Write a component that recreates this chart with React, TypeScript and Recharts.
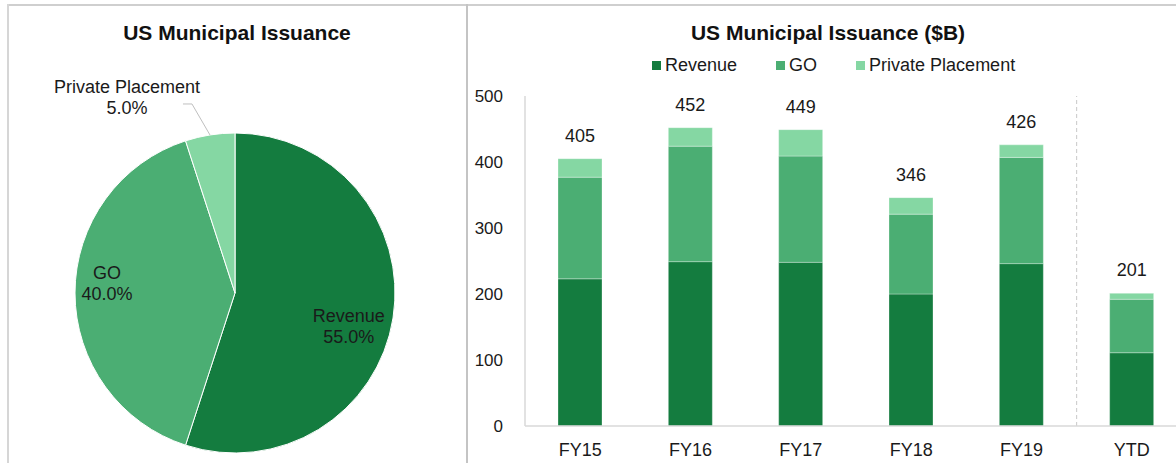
import { PieChart, Pie, Cell, BarChart, Bar, XAxis, YAxis, Legend, LabelList, ReferenceLine } from 'recharts'

const FONT = 'Arial, "Liberation Sans", sans-serif'

const shareNames = ['Revenue', 'GO', 'Private Placement']
const shareValues = [55, 40, 5]
const shareColors = ['#147C3F', '#4BAE73', '#85D7A3']

const years = ['FY15', 'FY16', 'FY17', 'FY18', 'FY19', 'YTD']
const revenue = [223, 249, 248, 200, 246, 111]
const go = [154, 175, 161, 121, 161, 81]
const privatePlacement = [28, 28, 40, 25, 19, 9]
const totals = [405, 452, 449, 346, 426, 201]
const yTicks = [0, 100, 200, 300, 400, 500]

const pieData = shareNames.map((name, i) => ({ name, value: shareValues[i] }))
const barData = years.map((year, i) => ({
  year,
  revenue: revenue[i],
  go: go[i],
  pp: privatePlacement[i],
  total: totals[i],
}))

const RAD = Math.PI / 180

// inside label placement (radius ratio, vertical nudge)
const insideLabel: Record<string, { ratio: number; dy: number }> = {
  Revenue: { ratio: 0.72, dy: 5 },
  GO: { ratio: 0.8, dy: -20 },
}

function PieLabel(props: any) {
  const { cx, cy, midAngle, outerRadius, name, percent } = props
  const pct = `${(percent * 100).toFixed(1)}%`
  const cos = Math.cos(-midAngle * RAD)
  const sin = Math.sin(-midAngle * RAD)
  if (name === 'Private Placement') {
    const sx = cx + outerRadius * cos
    const sy = cy + outerRadius * sin
    const mx = sx - 18
    const my = sy - 31
    const ex = mx - 9
    return (
      <g>
        <polyline points={`${sx},${sy} ${mx},${my} ${ex},${my}`} fill="none" stroke="#BFBFBF" strokeWidth={1} />
        <text x={ex - 56} y={my - 17} textAnchor="middle" dominantBaseline="central" fill="#1a1a1a" fontSize={18} fontFamily={FONT}>
          <tspan x={ex - 56} dy={0}>{name}</tspan>
          <tspan x={ex - 56} dy={21}>{pct}</tspan>
        </text>
      </g>
    )
  }
  const cfg = insideLabel[name]
  const r = outerRadius * cfg.ratio
  const x = cx + r * cos
  const y = cy + r * sin + cfg.dy
  return (
    <text x={x} y={y} textAnchor="middle" dominantBaseline="central" fill="#1a1a1a" fontSize={18} fontFamily={FONT}>
      <tspan x={x} dy={0}>{name}</tspan>
      <tspan x={x} dy={21}>{pct}</tspan>
    </text>
  )
}

const legendItems = [
  { label: 'Revenue', color: shareColors[0] },
  { label: 'GO', color: shareColors[1] },
  { label: 'Private Placement', color: shareColors[2] },
]

function BarLegend() {
  return (
    <div style={{ display: 'flex', alignItems: 'center', fontFamily: FONT, fontSize: 18, color: '#1a1a1a', whiteSpace: 'nowrap' }}>
      {legendItems.map((it, i) => (
        <div key={it.label} style={{ display: 'flex', alignItems: 'center', marginRight: i < legendItems.length - 1 ? 39 : 0 }}>
          <span style={{ display: 'inline-block', width: 9, height: 9, background: it.color, marginRight: 4 }} />
          <span>{it.label}</span>
        </div>
      ))}
    </div>
  )
}

const titleStyle = {
  position: 'absolute' as const,
  top: 20,
  fontFamily: FONT,
  fontWeight: 700,
  fontSize: 21,
  lineHeight: '26px',
  color: '#111',
  textAlign: 'center' as const,
  whiteSpace: 'nowrap' as const,
}

export default function App() {
  return (
    <div style={{ position: 'absolute', left: 0, top: 0, width: 1176, height: 463, overflow: 'hidden', background: '#fff' }}>
      {/* frame */}
      <div style={{ position: 'absolute', left: 7, top: 4, width: 1169, height: 2, background: '#CFCFCF' }} />
      <div style={{ position: 'absolute', left: 7, top: 4, width: 2, height: 459, background: '#D6D6D6' }} />
      <div style={{ position: 'absolute', left: 466, top: 4, width: 2, height: 459, background: '#C4C4C4' }} />

      {/* pie */}
      <div style={{ position: 'absolute', left: 0, top: 0, width: 466 }}>
        <div style={{ ...titleStyle, left: 0, width: 474 }}>US Municipal Issuance</div>
        <PieChart width={466} height={463} margin={{ top: 0, right: 0, bottom: 0, left: 0 }}>
          <Pie
            data={pieData}
            dataKey="value"
            nameKey="name"
            cx={235}
            cy={293}
            outerRadius={160}
            startAngle={90}
            endAngle={-270}
            stroke="#ffffff"
            strokeWidth={1}
            label={PieLabel}
            labelLine={false}
            isAnimationActive={false}
          >
            {pieData.map((d, i) => (
              <Cell key={d.name} fill={shareColors[i]} />
            ))}
          </Pie>
        </PieChart>
      </div>

      {/* bars */}
      <div style={{ position: 'absolute', left: 470, top: 0, width: 706, height: 463, overflow: 'hidden' }}>
        <div style={{ ...titleStyle, left: 0, width: 716 }}>US Municipal Issuance ($B)</div>
        <BarChart width={720} height={463} data={barData} margin={{ top: 96, right: 3, bottom: 3, left: 0 }} barSize={44}>
          <XAxis
            dataKey="year"
            tickLine={false}
            tickSize={0}
            tickMargin={17}
            height={34}
            axisLine={{ stroke: '#D9D9D9', strokeWidth: 1.5 }}
            tick={{ fontSize: 18, fill: '#1a1a1a', fontFamily: FONT }}
          />
          <YAxis
            domain={[0, 500]}
            ticks={yTicks}
            width={55}
            tickLine={false}
            tickSize={0}
            tickMargin={22}
            axisLine={{ stroke: '#D9D9D9', strokeWidth: 1.5 }}
            tick={{ fontSize: 17, fill: '#1a1a1a', fontFamily: FONT }}
          />
          <Legend
            layout="horizontal"
            verticalAlign="middle"
            align="center"
            content={BarLegend}
            wrapperStyle={{ top: 55, left: 182, width: 'auto', height: 22 }}
          />
          <ReferenceLine x="YTD" position="start" stroke="#C8C8C8" strokeDasharray="4 3" ifOverflow="extendDomain" />
          <Bar dataKey="revenue" stackId="a" fill={shareColors[0]} stroke="#ffffff" strokeOpacity={0.3} isAnimationActive={false} />
          <Bar dataKey="go" stackId="a" fill={shareColors[1]} stroke="#ffffff" strokeOpacity={0.3} isAnimationActive={false} />
          <Bar dataKey="pp" stackId="a" fill={shareColors[2]} stroke="#ffffff" strokeOpacity={0.3} isAnimationActive={false}>
            <LabelList dataKey="total" position="top" offset={17} fill="#1a1a1a" fontSize={18} fontFamily={FONT} />
          </Bar>
        </BarChart>
      </div>
    </div>
  )
}
